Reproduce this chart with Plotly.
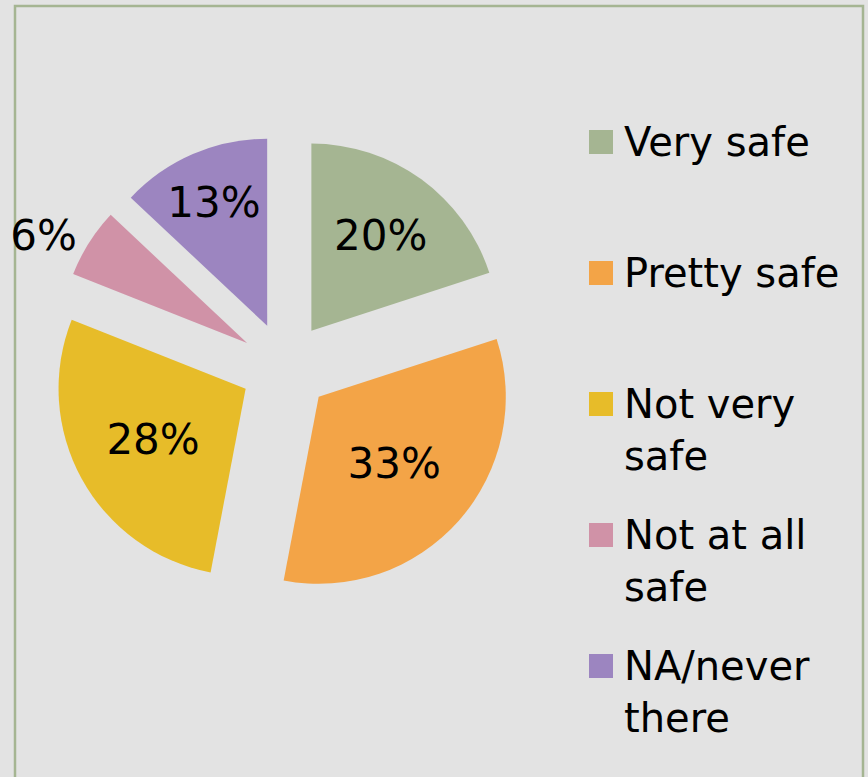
import plotly.graph_objects as go

# ---- data ----
labels = ["Very safe", "Pretty safe", "Not very safe", "Not at all safe", "NA/never there"]
values = [20, 33, 28, 6, 13]
legend_text = ["Very safe", "Pretty safe", "Not very<br>safe", "Not at all<br>safe", "NA/never<br>there"]
colors = ["#A5B592", "#F3A447", "#E7BC29", "#D092A7", "#9C85C0"]
text_pos = ["inside", "inside", "inside", "outside", "inside"]

W, H = 868, 777
FONT = "DejaVu Sans"
BG = "#E3E3E3"


def px(x):
    return x / W


def py(y):
    return 1 - y / H


fig = go.Figure()
fig.add_trace(go.Pie(
    labels=labels,
    values=values,
    sort=False,
    direction="clockwise",
    rotation=0,
    pull=[0.24] * len(values),
    marker=dict(colors=colors, line=dict(width=0)),
    texttemplate="%{percent:.0%}",
    textposition=text_pos,
    insidetextorientation="horizontal",
    textfont=dict(family=FONT, size=42, color="black"),
    domain=dict(x=[px(53), px(517)], y=[py(599), py(135)]),
    showlegend=False,
    automargin=False,
    hoverinfo="label+percent",
))

# legend built from the label/colour lists
shapes = []
annotations = []
y0, step = 142, 131
for i, (t, c) in enumerate(zip(legend_text, colors)):
    yc = y0 + i * step
    shapes.append(dict(type="rect", xref="paper", yref="paper",
                       x0=px(589), x1=px(613), y0=py(yc + 12), y1=py(yc - 12),
                       fillcolor=c, line=dict(width=0)))
    annotations.append(dict(xref="paper", yref="paper", x=px(622), y=py(yc - 25),
                            xanchor="left", yanchor="top", align="left",
                            text=t, showarrow=False,
                            font=dict(family=FONT, size=40, color="black")))

# frame
shapes.append(dict(type="rect", xref="paper", yref="paper",
                   x0=px(15), x1=px(863), y0=-0.2, y1=py(6),
                   line=dict(color="#A5B592", width=2.5), fillcolor="rgba(0,0,0,0)",
                   layer="below"))

fig.update_layout(
    width=W, height=H,
    margin=dict(l=0, r=0, t=0, b=0, pad=0, autoexpand=False),
    paper_bgcolor=BG,
    plot_bgcolor=BG,
    shapes=shapes,
    annotations=annotations,
    font=dict(family=FONT, color="black"),
)

fig.write_html(
    "out.html",
    config={"displayModeBar": False},
    post_script="document.body.style.margin='0';document.body.style.background='%s';" % BG,
)
